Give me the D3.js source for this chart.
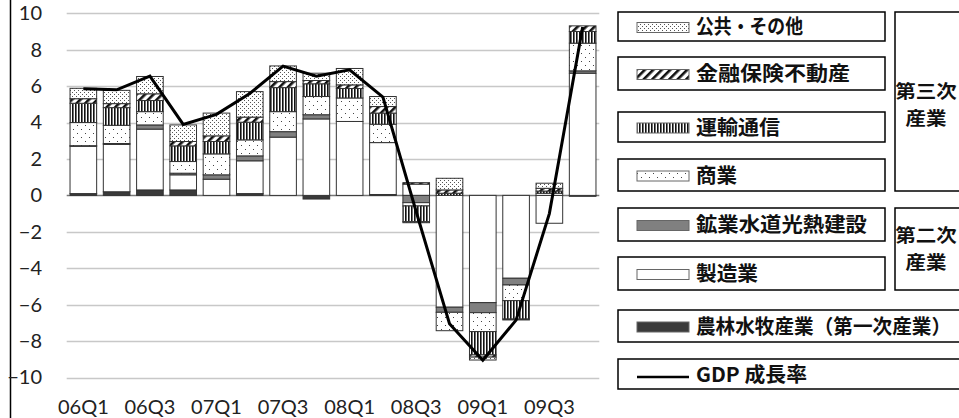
<!DOCTYPE html>
<html><head><meta charset="utf-8">
<script src="https://cdn.jsdelivr.net/npm/d3@7/dist/d3.min.js"></script>
<style>
html,body{margin:0;padding:0;background:#fff;}
svg{display:block;}
</style></head>
<body>
<svg id="chart" width="959" height="418"></svg>
<script>
// ---- data ----
const categories = ["06Q1","06Q2","06Q3","06Q4","07Q1","07Q2","07Q3","07Q4","08Q1","08Q2","08Q3","08Q4","09Q1","09Q2","09Q3","09Q4"];
const tickLabels = ["06Q1","06Q3","07Q1","07Q3","08Q1","08Q3","09Q1","09Q3"];
const yTicks = [-10,-8,-6,-4,-2,0,2,4,6,8,10];
const agriculture   = [0.1,0.2,0.3,0.3,0,0.1,0,-0.2,0,0.05,0,0,0,0,0,-0.05];
const manufacturing = [2.6,2.6,3.34,0.83,0.89,1.8,3.2,4.2,4.06,2.85,0.62,-6.14,-5.89,-4.55,-1.53,6.71];
const utilities     = [0.03,0.05,0.23,0.09,0.24,0.27,0.3,0.23,0,0,-0.4,-0.28,-0.55,-0.37,0,0.13];
const commerce      = [1.27,1.0,0.73,0.64,1.15,0.88,1.1,1.0,1.29,1.01,-0.18,-1.01,-1.04,-0.86,0.12,1.52];
const transport     = [1.06,0.97,0.61,0.86,0.68,0.97,1.32,0.7,0.52,0.61,-0.86,0.12,-1.28,-1.01,0.12,0.64];
const finance       = [0.25,0.22,0.37,0.24,0.31,0.28,0.33,0.18,0.2,0.36,0.08,0.18,-0.12,0,0.15,0.31];
const publicOther   = [0.57,0.73,0.95,0.91,1.25,1.4,0.86,0.4,0.9,0.55,-0.06,0.64,-0.16,-0.05,0.28,0];
const gdp           = [5.85,5.8,6.55,3.9,4.45,5.6,7.1,6.55,6.9,5.4,-0.9,-7.05,-9.05,-6.85,-1.0,9.25];
const seriesNames = ["農林水牧産業（第一次産業）","製造業","鉱業水道光熱建設","商業","運輸通信","金融保険不動産","公共・その他"];
const gdpName = "GDP 成長率";
const groupNames = [["第三次","産業"],["第二次","産業"]];

const seriesValues = [agriculture, manufacturing, utilities, commerce, transport, finance, publicOther];
const keys = ["agr","mfg","utl","com","trn","fin","pub"];
const fills = {agr:"#3a3a3a", mfg:"#ffffff", utl:"#808080", com:"url(#pCom)", trn:"url(#pTrn)", fin:"url(#pFin)", pub:"url(#pPub)"};

const rows = categories.map((c,i)=>{ const r={cat:c}; keys.forEach((k,j)=>r[k]=seriesValues[j][i]); return r; });

const svg = d3.select("#chart");
const defs = svg.append("defs");
// patterns
let p = defs.append("pattern").attr("id","pPub").attr("width",4).attr("height",4).attr("patternUnits","userSpaceOnUse");
p.append("rect").attr("width",4).attr("height",4).attr("fill","#fff");
p.append("rect").attr("x",0).attr("y",0).attr("width",1).attr("height",1).attr("fill","#555");
p.append("rect").attr("x",2).attr("y",2).attr("width",1).attr("height",1).attr("fill","#555");

p = defs.append("pattern").attr("id","pCom").attr("width",8).attr("height",8).attr("patternUnits","userSpaceOnUse");
p.append("rect").attr("width",8).attr("height",8).attr("fill","#fff");
p.append("rect").attr("x",1).attr("y",1).attr("width",1).attr("height",1).attr("fill","#444");
p.append("rect").attr("x",5).attr("y",5).attr("width",1).attr("height",1).attr("fill","#444");

p = defs.append("pattern").attr("id","pTrn").attr("width",3).attr("height",4).attr("patternUnits","userSpaceOnUse");
p.append("rect").attr("width",3).attr("height",4).attr("fill","#fff");
p.append("rect").attr("x",0).attr("y",0).attr("width",1.6).attr("height",4).attr("fill","#111");

p = defs.append("pattern").attr("id","pFin").attr("width",6).attr("height",6).attr("patternUnits","userSpaceOnUse").attr("patternTransform","rotate(45)");
p.append("rect").attr("width",6).attr("height",6).attr("fill","#fff");
p.append("rect").attr("x",0).attr("y",0).attr("width",2.6).attr("height",6).attr("fill","#111");

// scales
const x = d3.scaleBand().domain(categories).range([66.7,599.3]).paddingInner(0.2).paddingOuter(0.1);
const y = d3.scaleLinear().domain([-10,10]).range([377.5,13.3]);

// frame line on left
svg.append("line").attr("x1",10.5).attr("x2",10.5).attr("y1",0).attr("y2",418).attr("stroke","#000").attr("stroke-width",1.5);

// gridlines
svg.append("g").selectAll("line").data(yTicks).join("line")
  .attr("x1",66.7).attr("x2",599.3)
  .attr("y1",d=>Math.round(y(d))+0.5).attr("y2",d=>Math.round(y(d))+0.5)
  .attr("stroke",d=>d===0?"#777":"#c8c8c8").attr("stroke-width",1.5);

// y tick labels
const yAxis = d3.axisLeft(y).tickValues(yTicks).tickSize(0).tickPadding(0);
const gy = svg.append("g").attr("transform","translate(42,0)").call(yAxis);
gy.select(".domain").remove();
gy.selectAll("text").attr("font-family","Lato, 'Open Sans', sans-serif").attr("font-size",20).attr("fill","#222");

// x tick labels
const xAxis = d3.axisBottom(x).tickValues(tickLabels).tickSize(0).tickPadding(0);
const gx = svg.append("g").attr("transform","translate(0,400)").call(xAxis);
gx.select(".domain").remove();
gx.selectAll("text").attr("font-family","Lato, 'Open Sans', sans-serif").attr("font-size",20).attr("fill","#222").attr("dy","0.72em");

// stacked bars
const stack = d3.stack().keys(keys).offset(d3.stackOffsetDiverging);
const series = stack(rows);
svg.append("g").selectAll("g").data(series).join("g")
  .attr("fill",d=>fills[d.key])
  .selectAll("rect").data(d=>d.filter(s=>Math.abs(s[1]-s[0])>1e-9)).join("rect")
  .attr("x",d=>x(d.data.cat))
  .attr("width",x.bandwidth())
  .attr("y",d=>y(Math.max(d[0],d[1])))
  .attr("height",d=>Math.abs(y(d[0])-y(d[1])))
  .attr("stroke","#333").attr("stroke-width",1);

// GDP line
const line = d3.line().x((d,i)=>x(categories[i])+x.bandwidth()/2).y(d=>y(d));
svg.append("path").datum(gdp).attr("d",line).attr("fill","none").attr("stroke","#000").attr("stroke-width",3).attr("stroke-linejoin","miter");

// legend
const lg = svg.append("g");
const legendBoxes = [
  {name:seriesNames[6], key:"pub", y0:12, y1:41, x1:885, w:107},
  {name:seriesNames[5], key:"fin", y0:57, y1:90, x1:885, w:154},
  {name:seriesNames[4], key:"trn", y0:112, y1:142, x1:885, w:84},
  {name:seriesNames[3], key:"com", y0:159, y1:191, x1:885, w:41},
  {name:seriesNames[2], key:"utl", y0:208, y1:241, x1:885, w:171},
  {name:seriesNames[1], key:"mfg", y0:257, y1:290, x1:885, w:62},
  {name:seriesNames[0], key:"agr", y0:310, y1:342, x1:975, w:255},
  {name:gdpName, key:"gdp", y0:359, y1:389, x1:975, w:111}
];
const font = "'Noto Sans CJK JP', 'Noto Sans', sans-serif";
legendBoxes.forEach(b=>{
  lg.append("rect").attr("x",618).attr("y",b.y0).attr("width",b.x1-618).attr("height",b.y1-b.y0)
    .attr("fill","none").attr("stroke","#000").attr("stroke-width",1.5);
  const cy = (b.y0+b.y1)/2;
  if(b.key==="gdp"){
    lg.append("line").attr("x1",637).attr("x2",689).attr("y1",cy+3).attr("y2",cy+3).attr("stroke","#000").attr("stroke-width",2.5);
  } else {
    lg.append("rect").attr("x",637).attr("y",cy-4).attr("width",52).attr("height",10)
      .attr("fill",fills[b.key]).attr("stroke","#666").attr("stroke-width",1);
  }
  lg.append("text").attr("x",696).attr("y",cy+7.5).text(b.name)
    .attr("textLength",b.w).attr("lengthAdjust","spacingAndGlyphs")
    .attr("font-family",font).attr("font-weight","bold").attr("font-size",20).attr("fill","#111");
});
// group boxes
const groups = [{lines:groupNames[0], y0:12, y1:191, ty:98},{lines:groupNames[1], y0:208, y1:290, ty:242}];
groups.forEach(g=>{
  lg.append("rect").attr("x",895).attr("y",g.y0).attr("width",80).attr("height",g.y1-g.y0)
    .attr("fill","none").attr("stroke","#000").attr("stroke-width",1.5);
  g.lines.forEach((s,i)=>{
    lg.append("text").attr("text-anchor","middle").attr("x",926).attr("y",g.ty+i*27).text(s)
      .attr("textLength",s.length*20.5).attr("lengthAdjust","spacingAndGlyphs")
      .attr("font-family",font).attr("font-weight","bold").attr("font-size",18).attr("fill","#111");
  });
});
</script>
</body></html>
